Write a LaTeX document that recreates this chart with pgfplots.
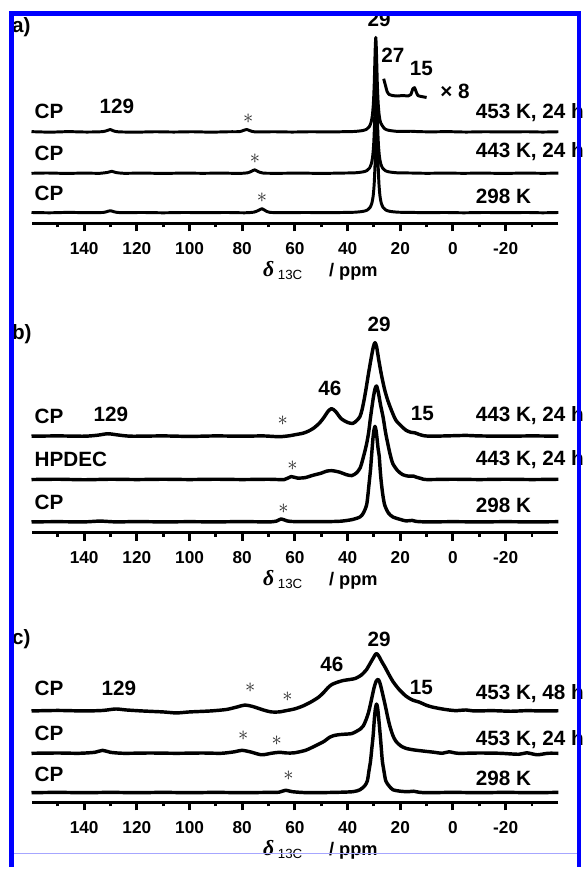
\documentclass[border=0pt]{standalone}
\usepackage{pgfplots}
\pgfplotsset{compat=1.18}
\usepackage{fontspec}
\setmainfont{Liberation Sans}
\newfontfamily\serif{Liberation Serif}
\definecolor{Frame}{RGB}{0,0,255}

\tikzset{
  spec/.style={line width=3.5pt, black, line join=round, smooth, tension=0.45},
  lab/.style={font=\fontsize{21}{21}\selectfont\bfseries, inner sep=0pt},
  ast/.style={font=\fontsize{22}{22}\selectfont, text=black!85, inner sep=0pt}
}
\pgfplotsset{
  nmr/.style={
    scale only axis, width=535pt, height=200pt, anchor=south west,
    xmin=-40, xmax=160, x dir=reverse, ymin=0, ymax=200,
    axis x line=bottom, axis y line=none, clip=false,
    axis line style={line width=3.5pt, -},
    xtick={-20,0,...,140}, xticklabels={-20,0,20,40,60,80,100,120,140},
    minor xtick={-30,-10,...,150},
    tick align=outside, major tick length=8pt, minor tick length=4pt,
    tick style={black, line width=3pt},
    xticklabel style={font=\fontsize{17.5}{17.5}\selectfont\bfseries, inner sep=0pt, yshift=-11pt}
  }
}
% x label in pixel scope, #1 = baseline
\newcommand{\xlab}[1]{%
  \node[anchor=base west, inner sep=0pt, font=\fontsize{22}{22}\selectfont\serif\bfseries\itshape] at (267,#1) {δ};
  \node[anchor=base west, inner sep=0pt, font=\fontsize{13.5}{13.5}\selectfont] at (282,{#1+3}) {13C};
  \node[anchor=base west, inner sep=0pt, font=\fontsize{18.5}{18.5}\selectfont\bfseries] at (334,#1) {/ ppm};
}

\begin{document}
\begin{tikzpicture}
\path (0,0) rectangle (593pt,869pt);

% ---------- panel a ----------
\begin{axis}[nmr, at={(32pt,642pt)}]
\addplot[spec, line width=3pt] table[y expr=\thisrowno{1}+93] {
160 0.3
153 -0.2
146 0.3
139 -0.1
133 0.3
131.2 1.5
130.1 2.5
129 1.2
127 0.1
120 -0.2
113 0.2
106 -0.1
99 0.2
92 -0.2
85 0.2
81 0.3
79.5 1.6
78.3 2.5
77 1.2
75 0
68 0.2
61 -0.1
54 0.2
46 0
41 0.3
37.3 0.5
34.3 1.4
32.8 2.7
31.8 5.2
31.1 9.6
30.6 16.8
30.2 29.5
29.9 48
29.7 67
29.5 86
29.3 96
29.1 86
28.9 67
28.7 48
28.4 29.5
28.0 16.8
27.5 9.6
26.8 6.2
25.8 3
24.3 1.6
21.3 0.6
18 0.5
16 0.7
13 0.3
8 0.1
2 0.3
-5 -0.1
-12 0.2
-20 0
-28 0.2
-34 -0.1
-40 0.2
};
\addplot[spec, line width=3pt] table[y expr=\thisrowno{1}+51] {
160 0
154 0.3
147 -0.1
140 0.2
134 0
131 1
129.5 2
128 0.8
125 0
118 0.2
110 -0.1
102 0.2
95 0
88 0.2
81 -0.1
78 0.5
76.5 2
75.3 3.5
74 1.8
72 0.2
66 0
58 0.2
50 -0.1
43 0.2
37.2 0.5
34.2 1.4
32.7 2.7
31.7 5.2
31.0 9.6
30.5 16.8
30.1 29.5
29.8 48
29.6 67
29.4 86
29.2 96
29.0 86
28.8 67
28.6 48
28.3 29.5
27.9 16.8
27.4 9.6
26.7 5.2
25.7 2.7
24.2 1.4
21.2 0.5
16 0.3
10 0
3 0.2
-4 0
-11 0.2
-19 -0.1
-27 0.2
-34 0
-40 0.2
};
\addplot[spec, line width=3pt] table[y expr=\thisrowno{1}+11] {
160 0.2
153 -0.1
146 0.3
139 0
133 0.2
131.5 1
130 2
128.5 0.8
126 0
118 0.2
110 -0.1
102 0.2
94 0
86 0.2
79 -0.1
75.5 0.6
73.7 2.5
72.5 4
71.3 2.2
69.5 0.3
63 0
56 0.2
48 0
42 0.2
37.0 0.5
34.0 1.4
32.5 2.7
31.5 5.2
30.8 9.6
30.3 16.8
29.9 29.5
29.6 48
29.4 67
29.2 86
29.0 96
28.8 86
28.6 67
28.4 48
28.1 29.5
27.7 16.8
27.2 9.6
26.5 5.2
25.5 2.7
24.0 1.4
21.0 0.5
16 0.3
10 0
3 0.2
-4 -0.1
-12 0.2
-20 0
-28 0.2
-34 -0.1
-40 0.2
};
% x 8 expansion
\addplot[spec, line width=3pt] table {
26.3 147
26.0 144
25.5 139
25.0 134
24.2 131
23.0 130
21.0 129.5
19.0 130
17.0 129.5
16.0 131
15.2 137
14.6 138
14.0 134
13.3 130
12.0 129
10.0 128
};
\end{axis}

% ---------- panel b ----------
\begin{axis}[nmr, at={(32pt,328pt)}]
\addplot[spec] table[y expr=\thisrowno{1}+98] {
160 0
150 0.3
140 0
135 1
131 2.5
127 1.2
122 0
110 0.3
100 -0.2
90 0.3
80 0
72 0.3
66 -0.5
62 0.5
60 1.5
57 3
55 5
53 8
50.8 13
49 19
47.5 25
46.1 28
44.5 25
42.5 18
40 14
38 13
36.5 16
35.3 20
34.5 27
33.8 36
33 48
32.1 63
31 80
30.2 91
29.6 95
29 91
28.2 78
27.2 63
26 48
24.7 36
23 24
21.6 16
19.5 10
17.8 6
16 4
14.5 3.5
13 2
11 0.5
8 0
0 0.5
-5 0.8
-10 0.3
-20 0
-30 0.3
-40 0
};
\addplot[spec] table[y expr=\thisrowno{1}+54] {
160 0
150 0.3
140 -0.2
130 0.3
120 0
110 0.3
100 0
90 0.3
80 0
70 0.3
64 0
61.5 3
59 1.5
56 2
53.6 4
50 6.5
48 8.5
45.9 9
43 7.5
40.5 5
38.4 4
36.5 7
35.2 12
34.7 16
33.8 25
32.8 36
32 48
31.3 63
30.3 82
29.6 92
29 95
28.3 88
27.5 76
26.5 63
25.6 48
24.7 36
23.8 25
22.8 16
21 9
19.1 5
17 3.5
15 3.5
14 2.5
12 1
10 0
0 0.3
-10 0
-20 0.3
-30 0
-40 0.3
};
\addplot[spec] table[y expr=\thisrowno{1}+11] {
160 0
150 0.2
140 0
134 0.8
128 0
120 0.3
110 0
100 0.2
90 0
80 0.3
70 0
67 0.8
65.2 3
63 1
60 0.3
50 0.2
44 0.5
41.5 1
38 2.5
35.3 5
34 9
32.8 17
32.3 27
31.8 40
31.3 53
30.9 67
30.4 84
30 93
29.6 97
29.2 93
28.8 84
28.4 74
28 67
27.6 52
27.2 40
26.6 27
25.9 17
24.5 9
22.8 5
20 2.5
17.8 1
15.5 1.5
14 0.5
10 0
0 0.2
-10 0
-20 0.2
-30 0
-40 0.2
};
\end{axis}

% ---------- panel c ----------
\begin{axis}[nmr, at={(32pt,54pt)}]
\addplot[spec] table[y expr=\thisrowno{1}+93] {
160 0
150 0.5
140 0
133 0.5
128 2
124 1
118 0
110 -1
105 -2
100 -1
92 0
86 1.5
82 4
79 6
76 4.5
72 1
69 -1
66 -1
63 0.5
60.2 2
57 5
54 9
51 14
49 19
47.5 23.5
45.9 27
43.5 29.5
41.5 31
39 32
37.1 33
35 36
33.8 39
32.8 42
31.5 48
30.2 54
29.3 58
28.8 58
28 55
27 50
25.9 45
24.3 37
22.8 30
20.5 22
17.8 15
15.3 11
12.8 9
10.3 6
7.9 4
4.1 2
1 0.8
-1 0.3
-5 1
-8 0
-15 0.3
-22 -0.3
-28 0.3
-34 0
-40 0.2
};
\addplot[spec] table[y expr=\thisrowno{1}+50] {
160 0
150 0.3
142 0
136 1
133 3
130 1
125 0
115 0.3
105 0
95 0.3
88 0
83 1.5
80.2 3
77 1.5
72.7 -1.5
69 0
66 1
63 0.3
60.2 0.5
56 3
52.7 7
49 12
47 16
45.2 18
43 19
40.5 19.5
38.4 20
36.5 22.5
35 25
34 28
33 34
32 42
30.9 55
30 66
29.2 73
28.4 75
27.8 72
27.2 66
26.5 58
25.5 46
24.8 37
24 28
22.8 18
21.6 12
19.8 7.5
17.8 5
15 3.5
12 2.5
10.4 2
7 1
4.1 0
1.5 1.5
-2 0
-10 0.3
-18 0
-25 -1
-28 0.5
-32 -1.5
-36 0
-40 0
};
\addplot[spec] table[y expr=\thisrowno{1}+10] {
160 0
150 0.3
140 0
130 0.3
120 0
110 0.3
100 0
90 0.3
80 0
70 0.3
66 0.5
63.5 2.5
61 1
55 0
45 0.3
38 1
35.3 3
33.5 7
32.5 12
31.9 22
31.3 32
30.8 45
30.3 58
29.8 76
29.4 86
29.0 90
28.6 86
28.2 76
27.6 58
27.2 45
26.8 32
26.2 22
25.5 12
24.3 7
22.8 3
20 1.5
17 1
15 1.5
13 0.5
10 0
0 0.3
-10 0
-20 0.3
-30 0
-40 0.3
};
\end{axis}

% ---------- text, in image pixel coordinates ----------
\begin{scope}[x=1pt, y=-1pt, shift={(0pt,869pt)}]
% panel a
\node[lab, anchor=base west] at (12,33) {a)};
\node[lab, anchor=base west] at (35,120) {CP};
\node[lab, anchor=base west] at (35,163) {CP};
\node[lab, anchor=base west] at (35,204) {CP};
\node[lab, anchor=base west] at (101,115) {129};
\node[lab, anchor=base west] at (483,120) {453 K, 24 h};
\node[lab, anchor=base west] at (483,160) {443 K, 24 h};
\node[lab, anchor=base west] at (483,207) {298 K};
\node[lab, anchor=base] at (385,27) {29};
\node[lab, anchor=base] at (399,63) {27};
\node[lab, anchor=base] at (428,77) {15};
\node[lab, anchor=base] at (462,100) {× 8};
\node[ast] at (252,121) {$\ast$};
\node[ast] at (259,161) {$\ast$};
\node[ast] at (266,201) {$\ast$};
\xlab{281}
% panel b
\node[lab, anchor=base west] at (12,345) {b)};
\node[lab, anchor=base west] at (35,430) {CP};
\node[lab, anchor=base west] at (35,474) {HPDEC};
\node[lab, anchor=base west] at (35,517) {CP};
\node[lab, anchor=base west] at (95,428) {129};
\node[lab, anchor=base west] at (483,428) {443 K, 24 h};
\node[lab, anchor=base west] at (483,473) {443 K, 24 h};
\node[lab, anchor=base west] at (483,520) {298 K};
\node[lab, anchor=base] at (385,337) {29};
\node[lab, anchor=base] at (335,402) {46};
\node[lab, anchor=base] at (429,427) {15};
\node[ast] at (287,427) {$\ast$};
\node[ast] at (297,473) {$\ast$};
\node[ast] at (288,517) {$\ast$};
\xlab{595}
% panel c
\node[lab, anchor=base west] at (12,655) {c)};
\node[lab, anchor=base west] at (35,706) {CP};
\node[lab, anchor=base west] at (35,752) {CP};
\node[lab, anchor=base west] at (35,794) {CP};
\node[lab, anchor=base west] at (103,706) {129};
\node[lab, anchor=base west] at (483,710) {453 K, 48 h};
\node[lab, anchor=base west] at (483,757) {453 K, 24 h};
\node[lab, anchor=base west] at (483,798) {298 K};
\node[lab, anchor=base] at (385,657) {29};
\node[lab, anchor=base] at (337,682) {46};
\node[lab, anchor=base] at (428,705) {15};
\node[ast] at (254,698) {$\ast$};
\node[ast] at (292,708) {$\ast$};
\node[ast] at (247,747) {$\ast$};
\node[ast] at (281,752) {$\ast$};
\node[ast] at (293,788) {$\ast$};
\xlab{869}
% frame
\draw[Frame!35, line width=1.2pt] (12,867) -- (588,867);
\draw[Frame, line width=5pt] (12,880) -- (12,13.5) -- (588,13.5) -- (588,880);
\end{scope}
\end{tikzpicture}
\end{document}
